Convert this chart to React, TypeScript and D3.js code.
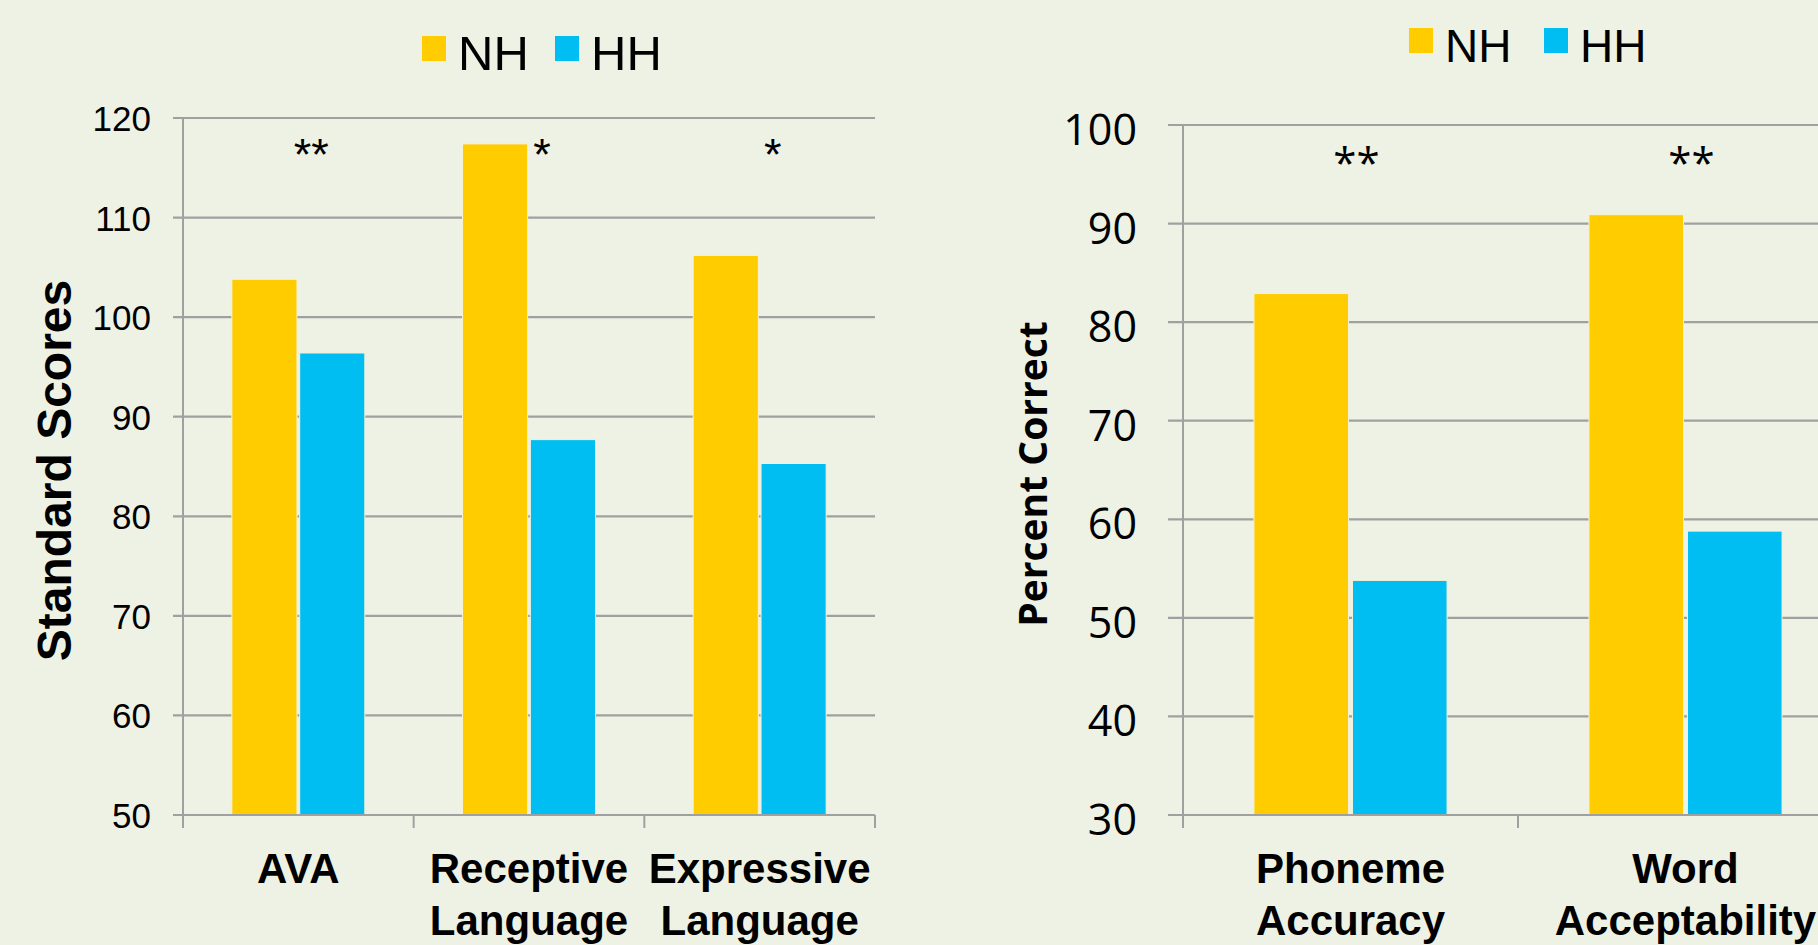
import React from 'react';
import * as d3 from 'd3';

const W = 1818;
const H = 945;

// series + colours
const series = ['NH', 'HH'];
const seriesColor: Record<string, string> = { NH: '#FFCC00', HH: '#00BEF2' };

// left panel: language outcomes (standard scores)
const langCategories = ['AVA', 'Receptive\nLanguage', 'Expressive\nLanguage'];
const langNH = [103.8, 117.4, 106.2];
const langHH = [96.4, 87.7, 85.3];
const langSig = ['**', '*', '*'];
const langTicks = [50, 60, 70, 80, 90, 100, 110, 120];

// right panel: speech production (percent correct)
const speechCategories = ['Phoneme\nAccuracy', 'Word\nAcceptability'];
const speechNH = [82.9, 90.9];
const speechHH = [53.8, 58.8];
const speechSig = ['**', '**'];
const speechTicks = [30, 40, 50, 60, 70, 80, 90, 100];

const ARIAL = "'Liberation Sans', Arial, sans-serif";
const OPEN = "'Open Sans', 'Liberation Sans', sans-serif";
const GRID = '#A0A0A0';

type PanelProps = {
  categories: string[];
  nh: number[];
  hh: number[];
  sig: string[];
  ticks: number[];
  xRange: [number, number];
  yRange: [number, number];
  title: string;
  titleX: number;
  titleFont: string;
  titleSize: number;
  tickFont: string;
  tickSize: number;
  tickLen: number;
  tickBaseline: number;
  labelGap: number;
  sigFont: string;
  sigSize: number;
  sigY: number;
  sigDx: number;
  legendX: number;
  legendY: number;
  legendSize: number;
  legendStep: number;
};

const Panel = (p: PanelProps) => {
  const x0 = d3.scaleBand<string>().domain(p.categories).range(p.xRange).padding(0);
  const x1 = d3
    .scaleBand<string>()
    .domain(series)
    .range([0, x0.bandwidth()])
    .paddingInner(0.04)
    .paddingOuter(0.72);
  const y = d3
    .scaleLinear()
    .domain([p.ticks[0], p.ticks[p.ticks.length - 1]])
    .range(p.yRange);

  const rows = p.categories.map((c, i) => ({ cat: c, NH: p.nh[i], HH: p.hh[i], sig: p.sig[i] }));
  const yBase = y(p.ticks[0]);
  const left = p.xRange[0];
  const bounds = [...p.categories.map((c) => x0(c) as number), p.xRange[1]];

  return (
    <g>
      {/* gridlines + y tick labels */}
      {p.ticks.map((t) => (
        <g key={t}>
          <line x1={left - p.tickLen} x2={p.xRange[1]} y1={y(t)} y2={y(t)} stroke={GRID} strokeWidth={2.2} />
          <text
            x={left - p.tickLen - p.labelGap}
            y={y(t) + p.tickBaseline}
            textAnchor="end"
            fontFamily={p.tickFont}
            fontSize={p.tickSize}
          >
            {t}
          </text>
        </g>
      ))}

      {/* bars */}
      {rows.map((r) =>
        series.map((s) => (
          <rect
            key={r.cat + s}
            x={(x0(r.cat) as number) + (x1(s) as number)}
            y={y((r as any)[s])}
            width={x1.bandwidth()}
            height={yBase - y((r as any)[s])}
            fill={seriesColor[s]}
            stroke="#F4F1D8"
            strokeWidth={1}
          />
        ))
      )}

      {/* axes */}
      <line x1={left} x2={left} y1={y.range()[1]} y2={yBase + 13} stroke={GRID} strokeWidth={2} />
      <line x1={left - p.tickLen} x2={p.xRange[1]} y1={yBase} y2={yBase} stroke={GRID} strokeWidth={2.2} />
      {bounds.map((b, i) => (
        <line key={i} x1={b} x2={b} y1={yBase} y2={yBase + 13} stroke={GRID} strokeWidth={2} />
      ))}

      {/* significance marks */}
      {rows.map((r) => (
        <text
          key={'s' + r.cat}
          x={(x0(r.cat) as number) + x0.bandwidth() / 2 + p.sigDx}
          y={p.sigY}
          textAnchor="middle"
          fontFamily={p.sigFont}
          fontSize={p.sigSize}
        >
          {r.sig}
        </text>
      ))}

      {/* category labels */}
      {rows.map((r) => (
        <text
          key={'c' + r.cat}
          x={(x0(r.cat) as number) + x0.bandwidth() / 2}
          y={883}
          textAnchor="middle"
          fontFamily={ARIAL}
          fontWeight="bold"
          fontSize={42}
        >
          {r.cat.split('\n').map((line, k) => (
            <tspan key={k} x={(x0(r.cat) as number) + x0.bandwidth() / 2} dy={k === 0 ? 0 : 52}>
              {line}
            </tspan>
          ))}
        </text>
      ))}

      {/* y title */}
      <text
        transform={`translate(${p.titleX},${(p.yRange[0] + p.yRange[1]) / 2 + 4}) rotate(-90)`}
        textAnchor="middle"
        fontFamily={p.titleFont}
        fontWeight="bold"
        fontSize={p.titleSize}
      >
        {p.title}
      </text>

      {/* legend */}
      {series.map((s, i) => (
        <g key={'l' + s} transform={`translate(${p.legendX + i * p.legendStep},${p.legendY})`}>
          <rect x={0} y={0} width={24} height={25} fill={seriesColor[s]} />
          <text x={36} y={34} fontFamily={ARIAL} fontSize={p.legendSize}>
            {s}
          </text>
        </g>
      ))}
    </g>
  );
};

export default function App() {
  return (
    <svg
      width={W}
      height={H}
      viewBox={`0 0 ${W} ${H}`}
      style={{ position: 'absolute', left: 0, top: 0, display: 'block' }}
    >
      <rect width={W} height={H} fill="#EEF2E5" />
      <Panel
        categories={langCategories}
        nh={langNH}
        hh={langHH}
        sig={langSig}
        ticks={langTicks}
        xRange={[183, 875]}
        yRange={[815, 118]}
        title="Standard Scores"
        titleX={71}
        titleFont={ARIAL}
        titleSize={48}
        tickFont={ARIAL}
        tickSize={35}
        tickLen={10}
        tickBaseline={13}
        labelGap={22}
        sigFont={ARIAL}
        sigSize={45}
        sigY={170}
        sigDx={13}
        legendX={422}
        legendY={36}
        legendSize={49}
        legendStep={133}
      />
      <Panel
        categories={speechCategories}
        nh={speechNH}
        hh={speechHH}
        sig={speechSig}
        ticks={speechTicks}
        xRange={[1183, 1853]}
        yRange={[815, 125]}
        title="Percent Correct"
        titleX={1047}
        titleFont={OPEN}
        titleSize={39}
        tickFont={OPEN}
        tickSize={43}
        tickLen={15}
        tickBaseline={20}
        labelGap={31}
        sigFont={OPEN}
        sigSize={42}
        sigY={178}
        sigDx={6}
        legendX={1409}
        legendY={28}
        legendSize={46}
        legendStep={135}
      />
    </svg>
  );
}
